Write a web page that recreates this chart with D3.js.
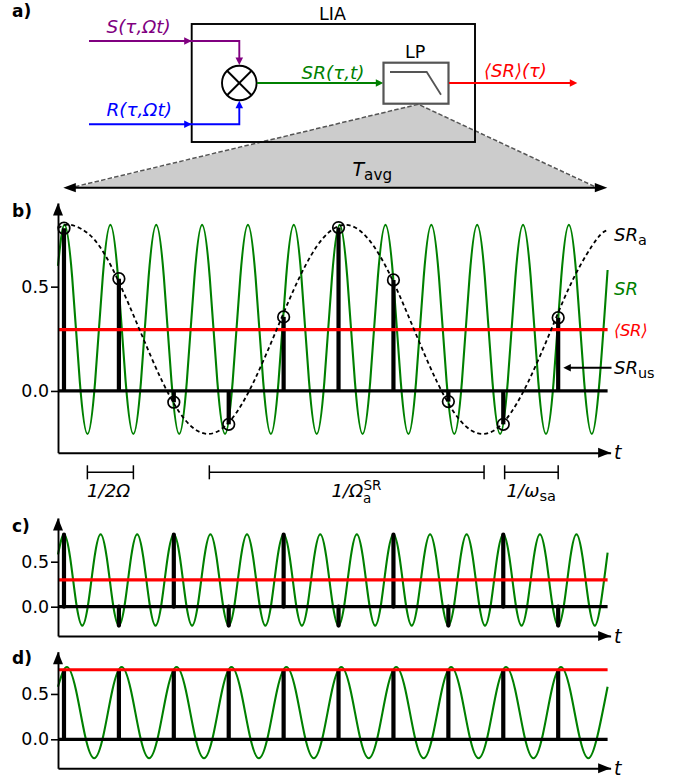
<!DOCTYPE html>
<html>
<head>
<meta charset="utf-8">
<script src="https://cdn.jsdelivr.net/npm/d3@7"></script>
<style>
body { margin: 0; background: #fff; }
text { font-family: "DejaVu Sans", sans-serif; }
</style>
</head>
<body>
<div id="fig"></div>
<script>
// values, t is counted in sampling periods
var yTicks = [0, 0.5];
var yTickLabels = ["0.0", "0.5"];
var stemTimes = [0, 1, 2, 3, 4, 5, 6, 7, 8, 9];

// panel b
var srTimesB = [-0.109,
	0.010, 0.149, 0.288, 0.428, 0.567, 0.706,
	0.845, 0.984, 1.123, 1.263, 1.402, 1.541,
	1.680, 1.819, 1.958, 2.098, 2.237, 2.376,
	2.515, 2.654, 2.793, 2.933, 3.072, 3.211,
	3.350, 3.489, 3.628, 3.768, 3.907, 4.046,
	4.185, 4.324, 4.463, 4.603, 4.742, 4.881,
	5.020, 5.159, 5.298, 5.438, 5.577, 5.716,
	5.855, 5.994, 6.133, 6.273, 6.412, 6.551,
	6.690, 6.829, 6.968, 7.108, 7.247, 7.386,
	7.525, 7.664, 7.803, 7.943, 8.082, 8.221,
	8.360, 8.499, 8.638, 8.778, 8.917, 9.056,
	9.195, 9.334, 9.473, 9.613, 9.752, 9.900];
var srValuesB = [0.60,
	0.796, 0.546, 0.045, -0.206, 0.045, 0.546,
	0.796, 0.546, 0.045, -0.206, 0.045, 0.546,
	0.796, 0.546, 0.045, -0.206, 0.045, 0.546,
	0.796, 0.546, 0.045, -0.206, 0.045, 0.546,
	0.796, 0.546, 0.045, -0.206, 0.045, 0.546,
	0.796, 0.546, 0.045, -0.206, 0.045, 0.546,
	0.796, 0.546, 0.045, -0.206, 0.045, 0.546,
	0.796, 0.546, 0.045, -0.206, 0.045, 0.546,
	0.796, 0.546, 0.045, -0.206, 0.045, 0.546,
	0.796, 0.546, 0.045, -0.206, 0.045, 0.546,
	0.796, 0.546, 0.045, -0.206, 0.045, 0.546,
	0.796, 0.546, 0.045, -0.206, 0.045, 0.58];
var stemsB = [0.78, 0.538, -0.054, -0.16, 0.355, 0.783, 0.532, -0.051, -0.16, 0.351];
var meanB = 0.294;
// slow envelope SRa (dashed)
var aliasTimes = [-0.109, 0.124, 0.541, 0.957, 1.374, 1.791, 2.207, 2.624, 3.041, 3.457, 3.874, 4.291, 4.707,
	5.124, 5.541, 5.957, 6.374, 6.791, 7.207, 7.624, 8.041, 8.457, 8.874, 9.291, 9.707, 9.9];
var aliasValues = [0.78, 0.796, 0.729, 0.546, 0.295, 0.045, -0.139, -0.206, -0.139, 0.045, 0.295, 0.546, 0.729,
	0.796, 0.729, 0.546, 0.295, 0.045, -0.139, -0.206, -0.139, 0.045, 0.295, 0.546, 0.729, 0.77];

// panel c
var srTimesC = [-0.109,
	0, 0.111, 0.222, 0.333, 0.444, 0.556,
	0.667, 0.778, 0.889, 1, 1.111, 1.222,
	1.333, 1.444, 1.556, 1.667, 1.778, 1.889,
	2, 2.111, 2.222, 2.333, 2.444, 2.556,
	2.667, 2.778, 2.889, 3, 3.111, 3.222,
	3.333, 3.444, 3.556, 3.667, 3.778, 3.889,
	4, 4.111, 4.222, 4.333, 4.444, 4.556,
	4.667, 4.778, 4.889, 5, 5.111, 5.222,
	5.333, 5.444, 5.556, 5.667, 5.778, 5.889,
	6, 6.111, 6.222, 6.333, 6.444, 6.556,
	6.667, 6.778, 6.889, 7, 7.111, 7.222,
	7.333, 7.444, 7.556, 7.667, 7.778, 7.889,
	8, 8.111, 8.222, 8.333, 8.444, 8.556,
	8.667, 8.778, 8.889, 9, 9.111, 9.222,
	9.333, 9.444, 9.556, 9.667, 9.778, 9.9];
var srValuesC = [0.58,
	0.804, 0.55, 0.044, -0.21, 0.044, 0.55,
	0.804, 0.55, 0.044, -0.21, 0.044, 0.55,
	0.804, 0.55, 0.044, -0.21, 0.044, 0.55,
	0.804, 0.55, 0.044, -0.21, 0.044, 0.55,
	0.804, 0.55, 0.044, -0.21, 0.044, 0.55,
	0.804, 0.55, 0.044, -0.21, 0.044, 0.55,
	0.804, 0.55, 0.044, -0.21, 0.044, 0.55,
	0.804, 0.55, 0.044, -0.21, 0.044, 0.55,
	0.804, 0.55, 0.044, -0.21, 0.044, 0.55,
	0.804, 0.55, 0.044, -0.21, 0.044, 0.55,
	0.804, 0.55, 0.044, -0.21, 0.044, 0.55,
	0.804, 0.55, 0.044, -0.21, 0.044, 0.55,
	0.804, 0.55, 0.044, -0.21, 0.044, 0.55,
	0.804, 0.55, 0.044, -0.21, 0.044, 0.55,
	0.804, 0.55, 0.044, -0.21, 0.044, 0.60];
var stemsC = [0.80, -0.21, 0.80, -0.21, 0.80, -0.21, 0.80, -0.21, 0.80, -0.21];
var meanC = 0.297;

// panel d
var srTimesD = [-0.109,
	0.05, 0.217, 0.383, 0.55, 0.717, 0.883,
	1.05, 1.217, 1.383, 1.55, 1.717, 1.883,
	2.05, 2.217, 2.383, 2.55, 2.717, 2.883,
	3.05, 3.217, 3.383, 3.55, 3.717, 3.883,
	4.05, 4.217, 4.383, 4.55, 4.717, 4.883,
	5.05, 5.217, 5.383, 5.55, 5.717, 5.883,
	6.05, 6.217, 6.383, 6.55, 6.717, 6.883,
	7.05, 7.217, 7.383, 7.55, 7.717, 7.883,
	8.05, 8.217, 8.383, 8.55, 8.717, 8.883,
	9.05, 9.217, 9.383, 9.55, 9.717, 9.9];
var srValuesD = [0.58,
	0.797, 0.546, 0.042, -0.209, 0.042, 0.546,
	0.797, 0.546, 0.042, -0.209, 0.042, 0.546,
	0.797, 0.546, 0.042, -0.209, 0.042, 0.546,
	0.797, 0.546, 0.042, -0.209, 0.042, 0.546,
	0.797, 0.546, 0.042, -0.209, 0.042, 0.546,
	0.797, 0.546, 0.042, -0.209, 0.042, 0.546,
	0.797, 0.546, 0.042, -0.209, 0.042, 0.546,
	0.797, 0.546, 0.042, -0.209, 0.042, 0.546,
	0.797, 0.546, 0.042, -0.209, 0.042, 0.546,
	0.797, 0.546, 0.042, -0.209, 0.042, 0.58];
var stemsD = [0.767, 0.767, 0.767, 0.767, 0.767, 0.767, 0.767, 0.767, 0.767, 0.767];
var meanD = 0.767;

// brackets below panel b, in sampling periods
var bracketStarts = [0.426, 2.647, 8.025];
var bracketEnds = [1.264, 7.65, 9.0];

var width = 689,
	height = 779;

var svg = d3.select("#fig")
	.append("svg")
	.attr("width", width)
	.attr("height", height);

// same time axis for the three plots
var x = d3.scaleLinear()
	.domain([-0.109, 9.9])
	.range([58, 607.6]);

var purple = "#800080",
	green = "#008000",
	blue = "#0000ff",
	red = "#ff0000",
	grey = "#555555";

// triangle head, tip at (tx,ty), angle 0 points right
function arrowHead(tx, ty, angle, len, half, color) {
	svg.append("path")
		.attr("d", "M0,0L" + (-len) + "," + (-half) + "L" + (-len) + "," + half + "Z")
		.attr("transform", "translate(" + tx + "," + ty + ") rotate(" + angle + ")")
		.attr("fill", color);
}

function polyline(pts, color, w) {
	return svg.append("path")
		.attr("d", d3.line()(pts))
		.attr("fill", "none")
		.attr("stroke", color)
		.attr("stroke-width", w);
}

// parts is a list of [string, "i"|"sub"|"sup"|"", dx]
function label(px, py, size, color, parts) {
	var t = svg.append("text")
		.attr("x", px)
		.attr("y", py)
		.attr("font-size", size)
		.attr("fill", color);
	var shift = 0;
	parts.forEach(function(p) {
		var s = t.append("tspan").text(p[0]);
		var dy = 0;
		if (p[1] == "i") s.attr("font-style", "italic");
		if (p[1] == "sub") { dy = size * 0.22; s.attr("font-size", size * 0.8); }
		if (p[1] == "sup") { dy = -size * 0.42; s.attr("font-size", size * 0.8); }
		s.attr("dy", dy - shift);
		if (p[2]) s.attr("dx", p[2]);
		shift = dy;
	});
	return t;
}

function panelLabel(txt, py) {
	svg.append("text")
		.attr("x", 12)
		.attr("y", py)
		.attr("font-size", 17)
		.attr("font-weight", "bold")
		.attr("fill", "#000")
		.text(txt);
}

function drawPanel(p) {
	var y = d3.scaleLinear().domain(p.yDomain).range(p.yRange);
	var g = svg.append("g");

	var line = d3.line()
		.curve(d3.curveNatural)
		.x(function(d) { return x(d[0]); })
		.y(function(d) { return y(d[1]); });

	g.append("path")
		.datum(d3.zip(p.srTimes, p.srValues))
		.attr("d", line)
		.attr("fill", "none")
		.attr("stroke", green)
		.attr("stroke-width", 2.1);

	// base line at zero
	g.append("line")
		.attr("x1", x.range()[0])
		.attr("x2", x.range()[1])
		.attr("y1", y(0))
		.attr("y2", y(0))
		.attr("stroke", "#000")
		.attr("stroke-width", 3.2);

	g.selectAll("line.stem")
		.data(d3.zip(stemTimes, p.stems))
		.enter()
		.append("line")
		.attr("class", "stem")
		.attr("x1", function(d) { return x(d[0]); })
		.attr("x2", function(d) { return x(d[0]); })
		.attr("y1", y(0))
		.attr("y2", function(d) { return y(d[1]); })
		.attr("stroke", "#000")
		.attr("stroke-width", 4.2)
		.attr("stroke-linecap", p.stemCap);

	g.append("line")
		.attr("x1", x.range()[0])
		.attr("x2", x.range()[1])
		.attr("y1", y(p.mean))
		.attr("y2", y(p.mean))
		.attr("stroke", red)
		.attr("stroke-width", 3.2);

	// y axis, the domain line runs up to the arrow tip
	var yAxis = d3.axisLeft(y)
		.tickValues(yTicks)
		.tickFormat(function(d, i) { return yTickLabels[i]; })
		.tickSizeInner(7)
		.tickSizeOuter(0)
		.tickPadding(2);
	var ax = g.append("g")
		.attr("transform", "translate(" + x.range()[0] + ",0)")
		.call(yAxis);
	ax.selectAll("text").attr("font-size", 17.4).attr("font-family", "DejaVu Sans").attr("fill", "#000");
	ax.selectAll("line").attr("stroke", "#000").attr("stroke-width", 1.6);
	ax.select(".domain").attr("stroke", "#000").attr("stroke-width", 1.9);

	// x axis without ticks
	var tipT = 9.955;
	var xAxis = d3.axisBottom(d3.scaleLinear().domain([x.domain()[0], tipT]).range([x.range()[0], x(tipT)]))
		.tickValues([])
		.tickSize(0);
	g.append("g")
		.attr("transform", "translate(0," + p.yRange[0] + ")")
		.call(xAxis)
		.select(".domain")
		.attr("stroke", "#000")
		.attr("stroke-width", 1.9);

	arrowHead(x.range()[0], p.yRange[1], -90, 12.5, 5, "#000");
	arrowHead(x(tipT), p.yRange[0], 0, 12.5, 5, "#000");
	label(614, p.tY, 19, "#000", [["t", "i"]]);
	return y;
}

// ---- panel a, the block diagram ----
panelLabel("a)", 17);

// grey averaging window goes under the box
svg.append("path")
	.attr("d", d3.line()([[75, 187.5], [418.3, 104.3], [595, 187.5]]))
	.attr("fill", "#cccccc")
	.attr("stroke", "none");
polyline([[75, 186.7], [418.3, 104.3], [595, 186.7]], grey, 1.5)
	.attr("stroke-dasharray", "4.5,2.2");

svg.append("rect")
	.attr("x", 191.7)
	.attr("y", 24)
	.attr("width", 283.3)
	.attr("height", 118)
	.attr("fill", "none")
	.attr("stroke", "#000")
	.attr("stroke-width", 1.9);

polyline([[89, 41], [239.3, 41], [239.3, 60]], purple, 1.9);
arrowHead(191.7, 41, 0, 7.5, 3.8, purple);
arrowHead(239.3, 65, 90, 7.5, 3.8, purple);

polyline([[89, 124.3], [239.3, 124.3], [239.3, 106]], blue, 1.9);
arrowHead(191.7, 124.3, 0, 7.5, 3.8, blue);
arrowHead(239.3, 100.7, -90, 7.5, 3.8, blue);

// mixer
var mixX = 239.3, mixY = 83, mixR = 17.3, mixD = mixR * Math.SQRT1_2;
svg.append("circle")
	.attr("cx", mixX)
	.attr("cy", mixY)
	.attr("r", mixR)
	.attr("fill", "none")
	.attr("stroke", "#000")
	.attr("stroke-width", 1.9);
polyline([[mixX - mixD, mixY - mixD], [mixX + mixD, mixY + mixD]], "#000", 1.9);
polyline([[mixX - mixD, mixY + mixD], [mixX + mixD, mixY - mixD]], "#000", 1.9);

polyline([[257, 83], [378, 83]], green, 1.9);
arrowHead(383.3, 83, 0, 7.5, 3.8, green);

// low pass box
svg.append("rect")
	.attr("x", 383.5)
	.attr("y", 62.7)
	.attr("width", 65)
	.attr("height", 41)
	.attr("fill", "none")
	.attr("stroke", grey)
	.attr("stroke-width", 2.2);
polyline([[390, 72], [426.7, 72], [441, 94.7]], grey, 1.8);

polyline([[449, 83], [572, 83]], red, 1.9);
arrowHead(577.3, 83, 0, 7.5, 3.8, red);

polyline([[70, 187.7], [600, 187.7]], "#000", 1.9);
arrowHead(63.3, 187.7, 180, 12.5, 4.6, "#000");
arrowHead(607.3, 187.7, 0, 12.5, 4.6, "#000");

label(106.5, 33, 18.4, purple, [["S(τ,Ωt)", "i"]]);
label(106.5, 116, 18.4, blue, [["R(τ,Ωt)", "i"]]);
label(301.5, 79, 18.4, green, [["SR(τ,t)", "i"]]);
label(405, 58, 17.5, "#000", [["LP", ""]]);
label(319, 20, 17.5, "#000", [["LIA", ""]]);
label(484, 77, 18, red, [["⟨SR⟩(τ)", "i"]]);
label(352.5, 176, 19, "#000", [["T", "i"], ["avg", "sub"]]);

// ---- plots ----
panelLabel("b)", 217);
var yB = drawPanel({
	yDomain: [-0.296, 0.901], yRange: [452.7, 203],
	srTimes: srTimesB, srValues: srValuesB,
	stems: stemsB, mean: meanB, stemCap: "butt", tY: 459
});

// dashed slow curve and the sampled points
svg.append("path")
	.datum(d3.zip(aliasTimes, aliasValues))
	.attr("d", d3.line()
		.curve(d3.curveNatural)
		.x(function(d) { return x(d[0]); })
		.y(function(d) { return yB(d[1]); }))
	.attr("fill", "none")
	.attr("stroke", "#000")
	.attr("stroke-width", 1.8)
	.attr("stroke-dasharray", "4,3");

svg.selectAll("circle.sample")
	.data(d3.zip(stemTimes, stemsB))
	.enter()
	.append("circle")
	.attr("class", "sample")
	.attr("cx", function(d) { return x(d[0]); })
	.attr("cy", function(d) { return yB(d[1]); })
	.attr("r", 5.8)
	.attr("fill", "none")
	.attr("stroke", "#000")
	.attr("stroke-width", 1.7);

label(614, 241, 18, "#000", [["SR", "i"], ["a", "sub"]]);
label(614, 295, 18, green, [["SR", "i"]]);
label(614, 336, 16.5, red, [["⟨SR⟩", "i"]]).attr("letter-spacing", -0.4);
label(614, 374, 18, "#000", [["SR", "i"], ["us", "sub"]]);
polyline([[611.5, 367.7], [567, 367.7]], "#000", 1.9);
arrowHead(563.3, 367.7, 180, 7.5, 3.8, "#000");

// interval brackets
bracketStarts.forEach(function(b, i) {
	var x0 = x(b), x1 = x(bracketEnds[i]), yb = 472.3;
	polyline([[x0, yb], [x1, yb]], "#000", 1.5);
	polyline([[x0, yb - 7], [x0, yb + 7]], "#000", 1.5);
	polyline([[x1, yb - 7], [x1, yb + 7]], "#000", 1.5);
});
label(87, 497, 18.2, "#000", [["1/2Ω", "i"]]);
label(331.5, 497, 18.2, "#000", [["1/Ω", "i"]])
	.call(function(t) {
		t.append("tspan").attr("font-size", 13.5).attr("dy", 5.5).text("a");
		t.append("tspan").attr("font-size", 13.5).attr("dx", -8).attr("dy", -13).text("SR");
	});
label(506.5, 497, 18.2, "#000", [["1/ω", "i"], ["sa", "sub"]]);

panelLabel("c)", 532);
drawPanel({
	yDomain: [-0.3256, 0.9856], yRange: [636, 518],
	srTimes: srTimesC, srValues: srValuesC,
	stems: stemsC, mean: meanC, stemCap: "round", tY: 642.5
});

panelLabel("d)", 664);
drawPanel({
	yDomain: [-0.3197, 0.9658], yRange: [768.3, 651.7],
	srTimes: srTimesD, srValues: srValuesD,
	stems: stemsD, mean: meanD, stemCap: "butt", tY: 774.5
});
</script>
</body>
</html>
